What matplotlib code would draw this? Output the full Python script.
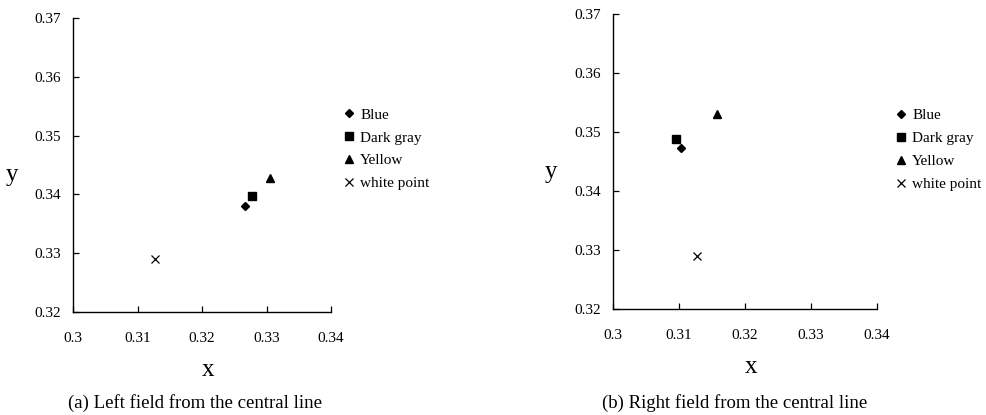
import matplotlib
matplotlib.use("Agg")
import matplotlib.pyplot as plt

plt.rcParams["font.family"] = ["Liberation Serif", "DejaVu Serif"]

# chromaticity coordinates
series = ["Blue", "Dark gray", "Yellow", "white point"]
markers = ["D", "s", "^", "x"]
msizes = [4.0, 6.0, 6.0, 6.0]

left_x = [0.3267, 0.3278, 0.3305, 0.3127]
left_y = [0.3380, 0.3398, 0.3428, 0.3290]
right_x = [0.3103, 0.3095, 0.3158, 0.3127]
right_y = [0.3474, 0.3488, 0.3530, 0.3290]

xticks = [0.3, 0.31, 0.32, 0.33, 0.34]
yticks = [0.32, 0.33, 0.34, 0.35, 0.36, 0.37]
captions = ["(a) Left field from the central line",
            "(b) Right field from the central line"]

fig = plt.figure(figsize=(9.87, 4.15), dpi=100)
ax_l = fig.add_axes([0.074, 0.248, 0.2614, 0.7084])
ax_r = fig.add_axes([0.6211, 0.255, 0.2675, 0.7108])

panels = [
    (ax_l, left_x, left_y, captions[0], (1.03, 0.715), 0.198),
    (ax_r, right_x, right_y, captions[1], (1.052, 0.70), 0.744),
]

for ax, xs, ys, cap, leg_anchor, cap_x in panels:
    for name, m, ms, x, y in zip(series, markers, msizes, xs, ys):
        if m == "x":
            ax.plot(x, y, linestyle="none", marker=m, markersize=ms,
                    color="black", markeredgewidth=0.9, label=name)
        else:
            ax.plot(x, y, linestyle="none", marker=m, markersize=ms,
                    color="black", label=name)
    ax.set_xlim(0.3, 0.34)
    ax.set_ylim(0.32, 0.37)
    ax.set_xticks(xticks)
    ax.set_yticks(yticks)
    ax.set_xticklabels([f"{t:g}" for t in xticks])
    ax.set_yticklabels([f"{t:g}" for t in yticks])
    ax.tick_params(direction="in", length=4, width=0.9, labelsize=11)
    ax.tick_params(axis="x", pad=14)
    ax.tick_params(axis="y", pad=9)
    for s in ("top", "right"):
        ax.spines[s].set_visible(False)
    for s in ("left", "bottom"):
        ax.spines[s].set_linewidth(1.0)
    ax.set_xlabel("x", fontsize=18)
    ax.set_ylabel("y", fontsize=18, rotation=0, va="center")
    ax.xaxis.set_label_coords(0.522, -0.158)
    ax.yaxis.set_label_coords(-0.236, 0.465)
    ax.legend(loc="upper left", bbox_to_anchor=leg_anchor, frameon=False,
              fontsize=11, handlelength=0.6, handletextpad=0.4,
              labelspacing=0.6, borderaxespad=0)
    fig.text(cap_x, 1 - 403 / 415, cap, ha="center", va="center",
             fontsize=13.5)

fig.savefig("out.png", dpi=100)
